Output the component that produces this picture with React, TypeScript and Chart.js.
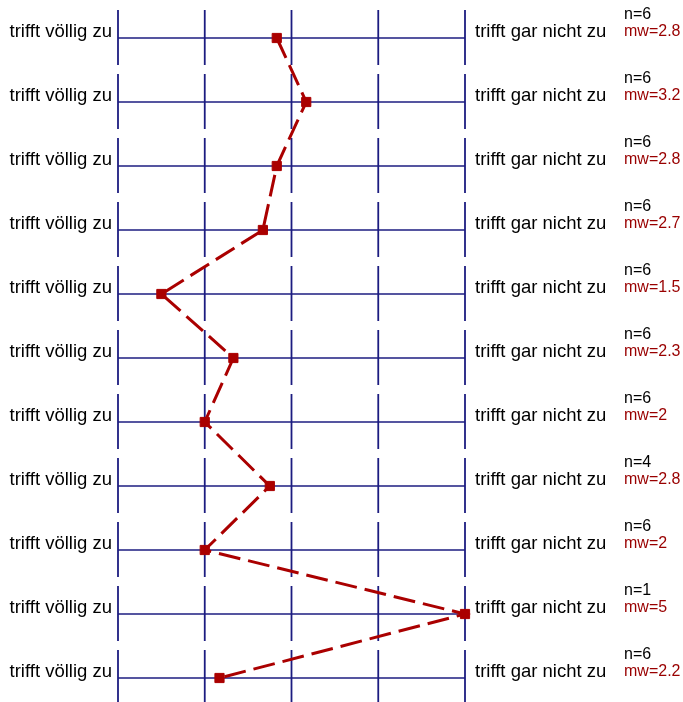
import React, { useEffect, useRef } from "react";
import { Chart, registerables } from "chart.js";

Chart.register(...registerables);

const leftLabels = Array(11).fill("trifft völlig zu");
const rightLabels = Array(11).fill("trifft gar nicht zu");
const nValues = [6, 6, 6, 6, 6, 6, 6, 4, 6, 1, 6];
const meanValues = [2.83, 3.17, 2.83, 2.67, 1.5, 2.33, 2, 2.75, 2, 5, 2.17];
const meanLabels = ["2.8", "3.2", "2.8", "2.7", "1.5", "2.3", "2", "2.8", "2", "5", "2.2"];
const scaleTicks = [1, 2, 3, 4, 5];

const LINE_COLOR = "#1c1c80";
const RED = "#aa0000";
const FONT = '"Liberation Sans", Arial, sans-serif';

const gridPlugin = {
  id: "profileGrid",
  beforeDatasetsDraw(chart: any) {
    const { ctx, scales } = chart;
    const xs = scales.x;
    const ys = scales.y;
    ctx.save();
    ctx.strokeStyle = LINE_COLOR;
    for (let i = 0; i < leftLabels.length; i++) {
      const y = ys.getPixelForValue(i);
      ctx.lineWidth = 1.6;
      ctx.beginPath();
      ctx.moveTo(xs.getPixelForValue(scaleTicks[0]), y);
      ctx.lineTo(xs.getPixelForValue(scaleTicks[scaleTicks.length - 1]), y);
      ctx.stroke();
      ctx.lineWidth = 1.8;
      for (const t of scaleTicks) {
        const x = xs.getPixelForValue(t);
        ctx.beginPath();
        ctx.moveTo(x, y - 28);
        ctx.lineTo(x, y + 27);
        ctx.stroke();
      }
    }
    ctx.restore();
  },
  afterDraw(chart: any) {
    const { ctx, scales } = chart;
    const xs = scales.x;
    const ys = scales.y;
    const xl = xs.getPixelForValue(scaleTicks[0]);
    const xr = xs.getPixelForValue(scaleTicks[scaleTicks.length - 1]);
    ctx.save();
    for (let i = 0; i < leftLabels.length; i++) {
      const y = ys.getPixelForValue(i);
      ctx.font = `18.5px ${FONT}`;
      ctx.fillStyle = "#000000";
      ctx.textBaseline = "alphabetic";
      ctx.textAlign = "right";
      ctx.fillText(leftLabels[i], xl - 6, y - 1);
      ctx.textAlign = "left";
      ctx.fillText(rightLabels[i], xr + 10, y - 1);
      ctx.font = `16px ${FONT}`;
      ctx.fillStyle = "#000000";
      ctx.fillText(`n=${nValues[i]}`, xr + 159, y - 19);
      ctx.fillStyle = "#990000";
      ctx.fillText(`mw=${meanLabels[i]}`, xr + 159, y - 2);
    }
    ctx.restore();
  },
};

export default function App() {
  const ref = useRef<HTMLCanvasElement>(null);
  useEffect(() => {
    if (!ref.current) return;
    const chart = new Chart(ref.current, {
      type: "line",
      data: {
        datasets: [
          {
            data: meanValues.map((v, i) => ({ x: v, y: i })),
            borderColor: RED,
            backgroundColor: RED,
            borderWidth: 3,
            borderDash: [22, 8],
            pointStyle: "rect",
            pointRadius: 6.5,
            pointBorderWidth: 1,
            pointBorderColor: RED,
            pointBackgroundColor: RED,
            clip: false as any,
            tension: 0,
          },
        ],
      },
      options: {
        responsive: false,
        animation: false,
        devicePixelRatio: 1,
        layout: { padding: { left: 118, right: 218, top: 38, bottom: 24 } },
        plugins: { legend: { display: false }, tooltip: { enabled: false } },
        scales: {
          x: { type: "linear", min: 1, max: 5, display: false },
          y: { type: "linear", min: 0, max: 10, reverse: true, display: false },
        },
      },
      plugins: [gridPlugin],
    });
    return () => chart.destroy();
  }, []);
  return (
    <div style={{ position: "absolute", left: 0, top: 0, width: 683, height: 702, background: "#fff" }}>
      <canvas ref={ref} width={683} height={702} style={{ display: "block", width: 683, height: 702 }} />
    </div>
  );
}
